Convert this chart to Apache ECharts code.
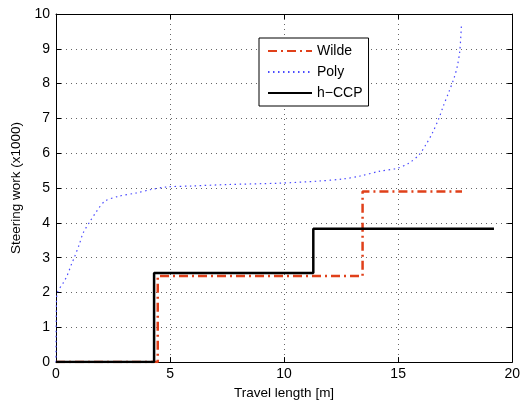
<!DOCTYPE html>
<html>
<head>
<meta charset="utf-8">
<script src="https://cdn.jsdelivr.net/npm/echarts@6/dist/echarts.min.js"></script>
<style>html,body{margin:0;padding:0;background:#fff}#c{width:523px;height:405px}</style>
</head>
<body>
<div id="c"></div>
<script>
const xTicks = [0, 5, 10, 15, 20];
const yTicks = [0, 1, 2, 3, 4, 5, 6, 7, 8, 9, 10];

const wildeX = [0, 4.46, 4.46, 13.44, 13.44, 17.8];
const wildeY = [0, 0, 2.47, 2.47, 4.90, 4.90];

const polyX = [0, 0.02, 0.06, 0.32, 0.49, 0.69, 0.80, 1.02, 1.19, 1.49, 1.78, 2.14, 2.72, 3.53, 4.11, 4.84, 6.0, 7.5, 9.8, 11.5, 12.56, 13.3, 14.17, 14.97, 15.48, 15.92, 16.21, 16.5, 16.79, 17.0, 17.23, 17.45, 17.59, 17.7, 17.77];
const polyY = [0, 1.71, 2.0, 2.28, 2.49, 2.83, 3.0, 3.38, 3.71, 4.04, 4.33, 4.62, 4.76, 4.86, 4.95, 5.03, 5.06, 5.10, 5.14, 5.20, 5.26, 5.34, 5.48, 5.57, 5.72, 5.96, 6.24, 6.58, 7.01, 7.39, 7.77, 8.16, 8.49, 8.92, 9.64];

const hccpX = [0, 4.3, 4.3, 11.28, 11.28, 19.2];
const hccpY = [0, 0, 2.56, 2.56, 3.83, 3.83];

const seriesNames = ['Wilde', 'Poly', 'h\u2212CCP'];

function pairs(xs, ys) { return xs.map((x, i) => [x, ys[i]]); }

const font = 'Liberation Sans, Arial, Helvetica, sans-serif';
const chart = echarts.init(document.getElementById('c'), null, {renderer: 'canvas'});

const baseAxis = {
  type: 'value',
  axisLine: {show: true, onZero: false, lineStyle: {color: '#000', width: 1}},
  axisTick: {show: true, inside: true, length: 5, lineStyle: {color: '#000'}},
  splitLine: {show: false},
  axisLabel: {show: false}
};

chart.setOption({
  animation: false,
  backgroundColor: '#fff',
  grid: {left: 56, right: 10, top: 14, bottom: 42, containLabel: false},
  xAxis: [
    Object.assign({}, baseAxis, {
      min: 0, max: 20, interval: 5, position: 'bottom',
      name: 'Travel length [m]', nameLocation: 'middle', nameGap: 21,
      nameTextStyle: {color: '#000', fontSize: 13.5, fontFamily: font},
      axisLabel: {show: true, color: '#000', fontSize: 14, fontFamily: font, margin: 5},
      splitLine: {show: true, lineStyle: {color: '#666', type: [1, 4], width: 1}}
    }),
    Object.assign({}, baseAxis, {min: 0, max: 20, interval: 5, position: 'top'})
  ],
  yAxis: [
    Object.assign({}, baseAxis, {
      min: 0, max: 10, interval: 1, position: 'left',
      name: 'Steering work (x1000)', nameLocation: 'middle', nameGap: 30,
      nameTextStyle: {color: '#000', fontSize: 13.5, fontFamily: font},
      axisLabel: {show: true, color: '#000', fontSize: 14, fontFamily: font, margin: 6},
      splitLine: {show: true, lineStyle: {color: '#666', type: [1, 4], width: 1}}
    }),
    Object.assign({}, baseAxis, {min: 0, max: 10, interval: 1, position: 'right'})
  ],
  legend: {
    left: 259, top: 38,
    orient: 'vertical', itemGap: 7, itemWidth: 44, itemHeight: 12,
    padding: [6, 6, 6, 8],
    borderColor: '#000', borderWidth: 1, backgroundColor: '#fff',
    textStyle: {color: '#000', fontSize: 14, fontFamily: font},
    itemStyle: {opacity: 0},
    data: seriesNames
  },
  series: [
    {
      name: seriesNames[0], type: 'line', symbol: 'none', z: 3,
      data: pairs(wildeX, wildeY),
      lineStyle: {color: '#e0401a', width: 2.5, type: [9, 4, 2, 4]},
      itemStyle: {color: '#e0401a'}
    },
    {
      name: seriesNames[1], type: 'line', symbol: 'none', smooth: 0.3, z: 2,
      data: pairs(polyX, polyY),
      lineStyle: {color: '#4a4aff', width: 1.2, type: [1.5, 3.5]},
      itemStyle: {color: '#4a4aff'}
    },
    {
      name: seriesNames[2], type: 'line', symbol: 'none', z: 4,
      data: pairs(hccpX, hccpY),
      lineStyle: {color: '#000', width: 2.5},
      itemStyle: {color: '#000'}
    }
  ]
});
</script>
</body>
</html>
